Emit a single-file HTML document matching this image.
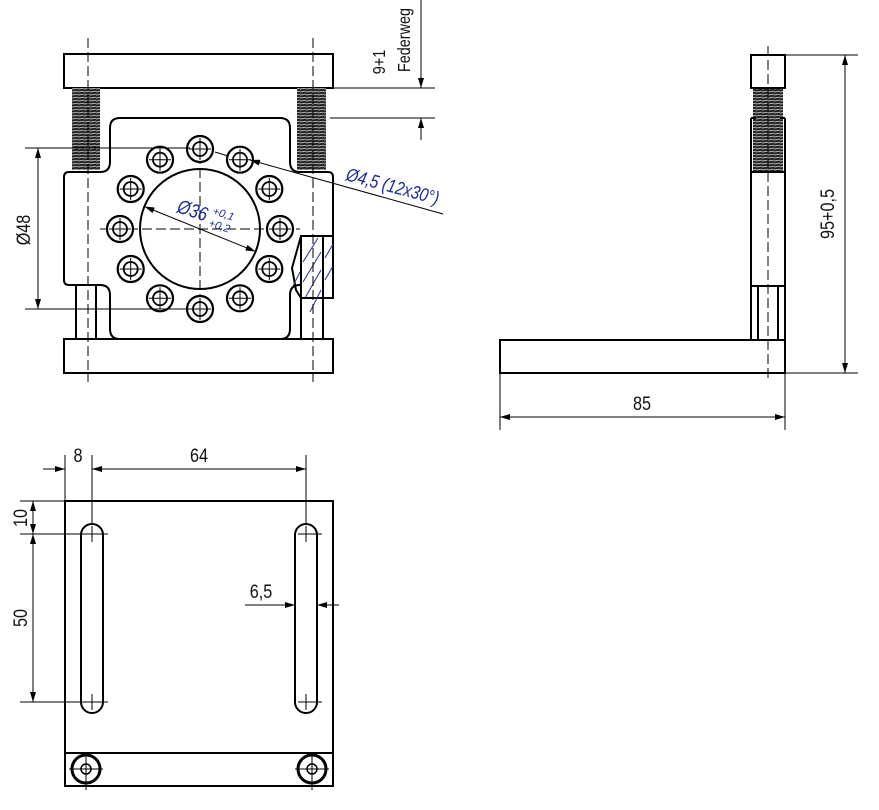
<!DOCTYPE html>
<html><head><meta charset="utf-8"><style>
html,body{margin:0;padding:0;background:#fff;}
svg{display:block;}
text{font-family:"Liberation Sans Narrow","Liberation Sans",sans-serif;}
</style></head><body>
<svg width="879" height="810" viewBox="0 0 879 810" xmlns="http://www.w3.org/2000/svg">
<defs>
<pattern id="spr" width="6" height="3" patternUnits="userSpaceOnUse">
<rect width="6" height="3" fill="#222"/>
<line x1="0" y1="2" x2="6" y2="1.2" stroke="#bbb" stroke-width="0.9"/>
</pattern>
<marker id="ar" viewBox="0 0 10 6" refX="10" refY="3" markerWidth="10" markerHeight="6" orient="auto-start-reverse" markerUnits="userSpaceOnUse">
<path d="M0,0 L10,3 L0,6 Z" fill="#000"/>
</marker>
<g id="h">
<circle r="13" fill="#fff" stroke="#000" stroke-width="2.2"/>
<circle r="7" fill="none" stroke="#000" stroke-width="1.8"/>
<line x1="-11" y1="0" x2="11" y2="0" stroke="#000" stroke-width="1"/>
<line x1="0" y1="-11" x2="0" y2="11" stroke="#000" stroke-width="1"/>
</g>
</defs>

<g fill="none" stroke="#000" stroke-width="2">
<rect x="64" y="54" width="269" height="34" fill="#fff"/>
<rect x="64" y="339" width="269" height="34" fill="#fff"/>
</g>
<rect x="72" y="88" width="28" height="82" fill="url(#spr)"/>
<rect x="297" y="88" width="29" height="82" fill="url(#spr)"/>
<path d="M120,118 H280 Q290,118 290,128 V162 Q290,172 300,172 H328 Q333,172 333,177 V280 Q333,285 328,285 H300 Q290,285 290,295 V329 Q290,339 280,339 H120 Q110,339 110,329 V295 Q110,285 100,285 H69 Q64,285 64,280 V177 Q64,172 69,172 H100 Q110,172 110,162 V128 Q110,118 120,118 Z" fill="#fff" stroke="#000" stroke-width="2"/>
<g stroke="#000" stroke-width="2" fill="none">
<line x1="76" y1="285" x2="76" y2="339"/>
<line x1="96" y1="285" x2="96" y2="339"/>
</g>
<g stroke="#000" stroke-width="2" fill="#fff">
<rect x="301" y="236" width="32" height="62"/>
<rect x="301" y="298" width="22" height="41"/>
<line x1="323" y1="236" x2="323" y2="298"/>
<path d="M301,236 L292,268 L296,290 L301,298" fill="none"/>
</g>
<g stroke="#223388" stroke-width="1">
<line x1="303" y1="262" x2="318" y2="238"/><line x1="303" y1="282" x2="321" y2="252"/><line x1="305" y1="298" x2="321" y2="270"/><line x1="310" y1="312" x2="321" y2="290"/><line x1="325" y1="258" x2="333" y2="244"/><line x1="325" y1="280" x2="333" y2="266"/><line x1="293" y1="286" x2="300" y2="272"/>
</g>
<circle cx="200" cy="229" r="60" fill="none" stroke="#000" stroke-width="2"/>
<g stroke="#000" stroke-width="1" stroke-dasharray="10,4">
<line x1="88" y1="38" x2="88" y2="382"/>
<line x1="313" y1="38" x2="313" y2="382"/>
<line x1="200" y1="140" x2="200" y2="320"/>
<line x1="100" y1="229" x2="300" y2="229"/>
</g>
<use href="#h" x="280" y="229"/><use href="#h" x="269.3" y="189"/><use href="#h" x="240" y="159.7"/>
<use href="#h" x="200" y="149"/><use href="#h" x="160" y="159.7"/><use href="#h" x="130.7" y="189"/>
<use href="#h" x="120" y="229"/><use href="#h" x="130.7" y="269"/><use href="#h" x="160" y="298.3"/>
<use href="#h" x="200" y="309"/><use href="#h" x="240" y="298.3"/><use href="#h" x="269.3" y="269"/>

<g stroke="#000" stroke-width="1" fill="none">
<line x1="25" y1="148" x2="190" y2="148"/>
<line x1="25" y1="309" x2="190" y2="309"/>
<line x1="38" y1="148" x2="38" y2="309" marker-start="url(#ar)" marker-end="url(#ar)"/>
<line x1="144.4" y1="206.5" x2="255.6" y2="251.5" marker-start="url(#ar)" marker-end="url(#ar)"/>
<line x1="250" y1="160" x2="443" y2="214" marker-start="url(#ar)"/>
<line x1="215" y1="152" x2="228" y2="156"/>
<line x1="333" y1="88" x2="435" y2="88"/>
<line x1="330" y1="118" x2="435" y2="118"/>
<line x1="421" y1="0" x2="421" y2="88" marker-end="url(#ar)"/>
<line x1="421" y1="140" x2="421" y2="118" marker-end="url(#ar)"/>
</g>
<text transform="translate(30,230) rotate(-90) scale(0.9,1.1)" font-size="18" text-anchor="middle" fill="#111">Ø48</text>
<text transform="translate(176,212) rotate(18) scale(0.9,1.1)" font-size="18" font-style="italic" fill="#1a2a9a">Ø36</text>
<text transform="translate(212,214) rotate(18)" font-size="11" font-style="italic" fill="#1a2a9a">+0,1</text>
<text transform="translate(208,226) rotate(18)" font-size="11" font-style="italic" fill="#1a2a9a">+0,2</text>
<text transform="translate(345,180) rotate(15) scale(0.9,1.1)" font-size="17" font-style="italic" fill="#1a2a9a">Ø4,5 (12x30°)</text>
<text transform="translate(385,62) rotate(-90) scale(0.9,1.1)" font-size="16" text-anchor="middle" fill="#111">9+1</text>
<text transform="translate(410,40) rotate(-90) scale(0.9,1.1)" font-size="16" text-anchor="middle" fill="#111">Federweg</text>

<rect x="753" y="88" width="30" height="83" fill="url(#spr)"/>
<g stroke="#000" stroke-width="2" fill="none">
<rect x="751" y="55" width="34" height="33" fill="#fff"/>
<path d="M751,118 V340 M785,118 V340 M751,118 H756 M780,118 H785 M751,172 H785 M751,286 H785"/>
<line x1="758" y1="286" x2="758" y2="340"/>
<line x1="778" y1="286" x2="778" y2="340"/>
<rect x="500" y="340" width="285" height="33"/>
</g>
<g stroke="#000" stroke-width="1" stroke-dasharray="10,4">
<line x1="768" y1="46" x2="768" y2="378"/>
</g>
<g stroke="#000" stroke-width="1" fill="none">
<line x1="785" y1="55" x2="858" y2="55"/>
<line x1="785" y1="373" x2="858" y2="373"/>
<line x1="845" y1="55" x2="845" y2="373" marker-start="url(#ar)" marker-end="url(#ar)"/>
<line x1="500" y1="373" x2="500" y2="430"/>
<line x1="785" y1="373" x2="785" y2="430"/>
<line x1="500" y1="417" x2="785" y2="417" marker-start="url(#ar)" marker-end="url(#ar)"/>
</g>
<text transform="translate(834,214) rotate(-90) scale(0.9,1.1)" font-size="18" text-anchor="middle" fill="#111">95+0,5</text>
<text transform="translate(642,410) scale(0.9,1.1)" font-size="18" text-anchor="middle" fill="#111">85</text>

<g stroke="#000" stroke-width="2" fill="none">
<rect x="65" y="501" width="268" height="285"/>
<line x1="65" y1="753" x2="333" y2="753"/>
<rect x="81" y="524" width="22" height="189" rx="11"/>
<rect x="295" y="524" width="22" height="189" rx="11"/>
<circle cx="86" cy="769" r="14" stroke-width="3"/>
<circle cx="312" cy="769" r="14" stroke-width="3"/>
<circle cx="86" cy="769" r="5" stroke-width="1.5"/>
<circle cx="312" cy="769" r="5" stroke-width="1.5"/>
</g>
<g stroke="#000" stroke-width="1" fill="none">
<path d="M86,756 V790 M69,769 H103 M312,756 V790 M295,769 H329"/>
<path d="M92,526 V542 M84,534 H108 M92,694 V710 M84,702 H108 M306,526 V542 M298,534 H322 M306,694 V710 M298,702 H322"/>
<line x1="65" y1="455" x2="65" y2="501"/>
<line x1="92" y1="455" x2="92" y2="524"/>
<line x1="306" y1="455" x2="306" y2="524"/>
<line x1="43" y1="469" x2="65" y2="469" marker-end="url(#ar)"/>
<line x1="92" y1="469" x2="306" y2="469" marker-start="url(#ar)" marker-end="url(#ar)"/>
<line x1="20" y1="501" x2="65" y2="501"/>
<line x1="20" y1="534" x2="92" y2="534"/>
<line x1="20" y1="702" x2="92" y2="702"/>
<line x1="33" y1="501" x2="33" y2="534" marker-start="url(#ar)" marker-end="url(#ar)"/>
<line x1="33" y1="534" x2="33" y2="702" marker-start="url(#ar)" marker-end="url(#ar)"/>
<line x1="245" y1="605" x2="295" y2="605" marker-end="url(#ar)"/>
<line x1="339" y1="605" x2="317" y2="605" marker-end="url(#ar)"/>
</g>
<text transform="translate(78,462) scale(0.9,1.1)" font-size="18" text-anchor="middle" fill="#111">8</text>
<text transform="translate(199,462) scale(0.9,1.1)" font-size="18" text-anchor="middle" fill="#111">64</text>
<text transform="translate(27,518) rotate(-90) scale(0.9,1.1)" font-size="18" text-anchor="middle" fill="#111">10</text>
<text transform="translate(27,618) rotate(-90) scale(0.9,1.1)" font-size="18" text-anchor="middle" fill="#111">50</text>
<text transform="translate(261,598) scale(0.9,1.1)" font-size="18" text-anchor="middle" fill="#111">6,5</text>
</svg>
</body></html>
